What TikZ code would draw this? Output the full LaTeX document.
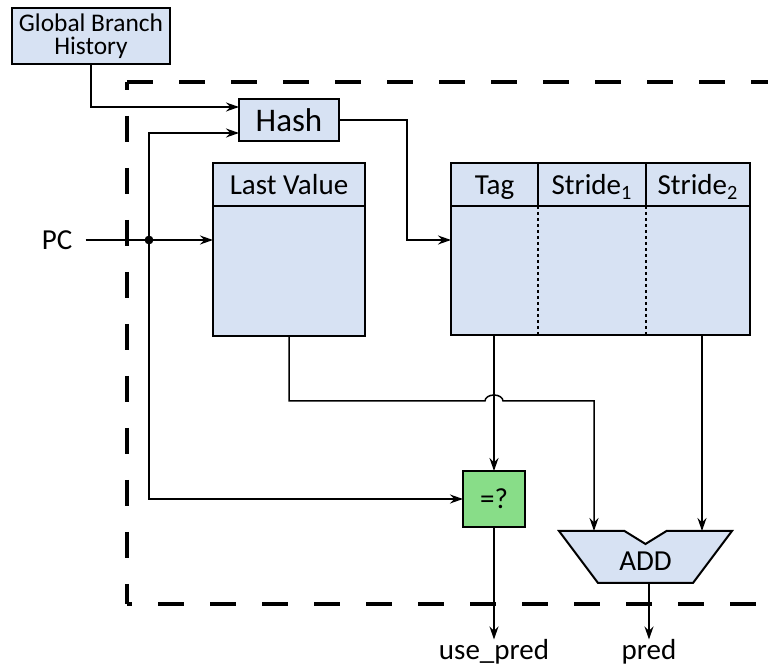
\documentclass[tikz,border=0pt]{standalone}
\usepackage{fontspec}
\setmainfont{Carlito}
\usetikzlibrary{arrows.meta,calc}
\definecolor{boxblue}{RGB}{215,226,243}
\definecolor{boxgreen}{RGB}{136,221,136}
\begin{document}
\begin{tikzpicture}[x=0.5pt,y=-0.5pt,
  box/.style={draw, line width=1pt, fill=boxblue, inner sep=0pt, outer sep=0pt},
  wire/.style={line width=0.75pt},
  arr/.style={wire, -{Stealth[length=6.5pt,width=4.5pt]}},
  lbl/.style={font=\fontsize{14.5}{17}\selectfont, inner sep=0pt},
  head/.style={box, lbl, minimum height=21.5pt, text height=12pt, text depth=1.5pt},
  frame/.style={line width=1.65pt, dash pattern=on 13pt off 13pt},
  sep/.style={line width=0.9pt, dash pattern=on 1.5pt off 1.5pt}]
\clip (0,0) rectangle (768,668);
% dashed frame
\draw[frame, dash phase=0pt] (127,82) -- (790,82);
\draw[frame, dash phase=9pt] (127,82) -- (127,604);
\draw[frame, dash phase=10.5pt] (127,604) -- (790,604);
% nodes
\node[box, minimum width=79pt, minimum height=28pt, align=center,
      font=\fontsize{12.7}{11.6}\selectfont] (gbh) at (91,36) {Global Branch\\History};
\node[box, minimum width=50pt, minimum height=21pt,
      font=\fontsize{16.5}{19}\selectfont] (hash) at (289,120) {Hash};
\node[head, minimum width=76pt] (lvh) at (289,184.5) {Last Value};
\node[box, minimum width=76pt, minimum height=65pt] (lvb) at (289,271) {};
\node[head, minimum width=43.5pt] (tagh) at (494.5,184.5) {Tag};
\node[head, minimum width=54pt] (s1h) at (592,184.5) {Stride\textsubscript{1}};
\node[head, minimum width=52pt] (s2h) at (698,184.5) {Stride\textsubscript{2}};
\node[box, minimum width=149.5pt, minimum height=64.5pt] (tb) at (600.5,270.5) {};
\draw[sep] (s1h.south west) -- (s1h.south west |- tb.south);
\draw[sep] (s2h.south west) -- (s2h.south west |- tb.south);
\node[box, lbl, fill=boxgreen, minimum width=31pt, minimum height=28pt] (eq) at (494,499) {=?};
\node[inner sep=0pt, outer sep=0pt, minimum width=86.5pt, minimum height=26pt] (add) at (645.5,557) {};
\draw[box] (add.north west) -- ($(add.north)+(-10.5pt,0)$) -- ($(add.north)+(0,-6.5pt)$)
  -- ($(add.north)+(10.5pt,0)$) -- (add.north east) -- ($(add.south east)+(-19.5pt,0)$)
  -- ($(add.south west)+(19.5pt,0)$) -- cycle;
\node[lbl] (addtxt) at ($(add.center)+(0,-2pt)$) {ADD};
\node[lbl] (pc) at (57,240) {PC};
\node[lbl, anchor=base] (up) at (494,660) {use\_pred};
\node[lbl, anchor=base] (pr) at (649,660) {pred};
\coordinate (dot) at (149,240);
\coordinate (hb) at (407,120);
\coordinate (jmp) at (494,401);
\coordinate (addL) at ($(add.north)+(-25.75pt,0)$);
\coordinate (addR) at ($(add.north)+(28.25pt,0)$);
\coordinate (addout) at ($(add.south)+(1.75pt,0)$);
% wires
\draw[arr] ([xshift=6.5pt]pc.east) -- (lvb.west |- pc.east);
\fill (dot) circle[radius=2.2pt];
\draw[arr] (gbh.south) |- ([yshift=6.5pt]hash.west);
\draw[arr] (dot) |- ([yshift=-6.5pt]hash.west);
\draw[arr] (dot) |- (eq.west);
\draw[arr] (hash.east) -- (hb) |- (tb.west |- pc.east);
\draw[arr] (eq.north |- tb.south) -- (eq.north);
\draw[arr] (lvb.south) |- ([xshift=-4.5pt]jmp)
  arc[start angle=180, end angle=0, x radius=4.5pt, y radius=3pt] -| (addL);
\draw[arr] (addR |- tb.south) -- (addR);
\draw[arr] (eq.south) -- (up.north);
\draw[arr] (addout) -- (addout |- pr.north);
\end{tikzpicture}
\end{document}
